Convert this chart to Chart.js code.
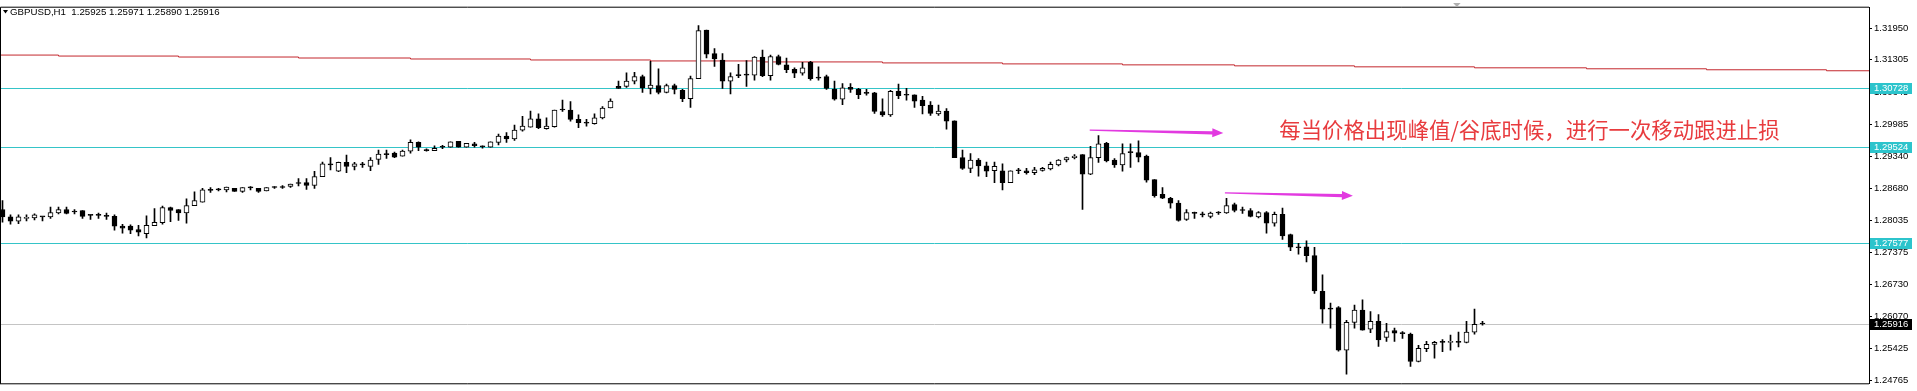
<!DOCTYPE html>
<html>
<head>
<meta charset="utf-8">
<script src="https://cdn.jsdelivr.net/npm/chart.js@4.4.1/dist/chart.umd.min.js"></script>
<style>
  html, body { margin: 0; padding: 0; background: #fff; }
  #wrap { width: 1917px; height: 391px; }
</style>
</head>
<body>
<div id="wrap"><canvas id="chart" width="1917" height="391"></canvas></div>
<script>
// GBPUSD H1 candles (oldest first)
const open = [
  1.2825, 1.2810, 1.2801, 1.2807, 1.2808, 1.2810, 1.2810, 1.2818, 1.2825, 1.2822,
  1.2823, 1.2814, 1.2814, 1.2813, 1.2811, 1.2791, 1.2791, 1.2784, 1.2776, 1.2792,
  1.2798, 1.2829, 1.2825, 1.2818, 1.2833, 1.2840, 1.2865, 1.2865, 1.2865, 1.2868,
  1.2862, 1.2869, 1.2868, 1.2863, 1.2870, 1.2872, 1.2872, 1.2878, 1.2880, 1.2874,
  1.2892, 1.2916, 1.2903, 1.2921, 1.2913, 1.2916, 1.2913, 1.2927, 1.2938, 1.2940,
  1.2934, 1.2944, 1.2962, 1.2946, 1.2945, 1.2952, 1.2952, 1.2964, 1.2952, 1.2959,
  1.2953, 1.2952, 1.2962, 1.2975, 1.2969, 1.2987, 1.2993, 1.3010, 1.2990, 1.2994,
  1.3028, 1.3028, 1.3009, 1.3002, 1.3000, 1.3012, 1.3032, 1.3076, 1.3076, 1.3087,
  1.3096, 1.3072, 1.3078, 1.3064, 1.3078, 1.3068, 1.3051, 1.3092, 1.3191, 1.3143,
  1.3130, 1.3087, 1.3100, 1.3100, 1.3099, 1.3136, 1.3098, 1.3137, 1.3120, 1.3111,
  1.3103, 1.3125, 1.3095, 1.3096, 1.3070, 1.3050, 1.3074, 1.3070, 1.3063, 1.3063,
  1.3025, 1.3018, 1.3066, 1.3059, 1.3059, 1.3048, 1.3038, 1.3020, 1.3026, 1.3006,
  1.2931, 1.2909, 1.2926, 1.2914, 1.2904, 1.2904, 1.2880, 1.2904, 1.2904, 1.2900,
  1.2905, 1.2908, 1.2916, 1.2926, 1.2931, 1.2937, 1.2897, 1.2931, 1.2960, 1.2926,
  1.2916, 1.2941, 1.2941, 1.2934, 1.2886, 1.2856, 1.2848, 1.2838, 1.2805, 1.2817,
  1.2815, 1.2811, 1.2818, 1.2818, 1.2835, 1.2823, 1.2823, 1.2810, 1.2819, 1.2797,
  1.2815, 1.2774, 1.2748, 1.2749, 1.2731, 1.2658, 1.2622, 1.2625, 1.2538, 1.2595,
  1.2620, 1.2581, 1.2597, 1.2564, 1.2578, 1.2573, 1.2571, 1.2515, 1.2541, 1.2550,
  1.2554, 1.2554, 1.2555, 1.2554, 1.2575, 1.25925
];
const high = [
  1.2843, 1.2814, 1.2814, 1.2814, 1.2816, 1.2810, 1.2830, 1.2830, 1.2830, 1.2825,
  1.2823, 1.2814, 1.2818, 1.2818, 1.2814, 1.2795, 1.2794, 1.2793, 1.2812, 1.2827,
  1.2832, 1.2830, 1.2825, 1.2847, 1.2861, 1.2868, 1.2870, 1.2868, 1.2871, 1.2868,
  1.2870, 1.2872, 1.2868, 1.2870, 1.2872, 1.2874, 1.2877, 1.2888, 1.2888, 1.2903,
  1.2922, 1.2931, 1.2922, 1.2936, 1.2921, 1.2921, 1.2931, 1.2946, 1.2946, 1.2942,
  1.2946, 1.2967, 1.2963, 1.2949, 1.2955, 1.2956, 1.2963, 1.2964, 1.2960, 1.2962,
  1.2955, 1.2963, 1.2979, 1.2982, 1.2997, 1.3015, 1.3026, 1.3020, 1.3012, 1.3028,
  1.3048, 1.3045, 1.3018, 1.3009, 1.3020, 1.3035, 1.3051, 1.3087, 1.3104, 1.3105,
  1.3099, 1.3127, 1.3112, 1.3081, 1.3081, 1.3070, 1.3097, 1.3200, 1.3191, 1.3153,
  1.3143, 1.3104, 1.3121, 1.3129, 1.3137, 1.3150, 1.3140, 1.3140, 1.3134, 1.3114,
  1.3125, 1.3127, 1.3116, 1.3099, 1.3087, 1.3082, 1.3082, 1.3072, 1.3070, 1.3064,
  1.3051, 1.3068, 1.3081, 1.3072, 1.3059, 1.3056, 1.3045, 1.3038, 1.3031, 1.3006,
  1.2946, 1.2939, 1.2929, 1.2922, 1.2922, 1.2918, 1.2904, 1.2909, 1.2909, 1.2911,
  1.2911, 1.2922, 1.2927, 1.2932, 1.2937, 1.2937, 1.2954, 1.2976, 1.2962, 1.2929,
  1.2959, 1.2959, 1.2965, 1.2936, 1.2886, 1.2870, 1.2850, 1.2843, 1.2825, 1.2820,
  1.2820, 1.2820, 1.2821, 1.2848, 1.2838, 1.2830, 1.2827, 1.2821, 1.2821, 1.2820,
  1.2828, 1.2775, 1.2756, 1.2761, 1.2748, 1.2692, 1.2634, 1.2627, 1.2599, 1.2630,
  1.2641, 1.2617, 1.2611, 1.2593, 1.2583, 1.2576, 1.2573, 1.2548, 1.2556, 1.2556,
  1.2560, 1.2569, 1.2575, 1.2597, 1.2622, 1.25971
];
const low = [
  1.2799, 1.2795, 1.2796, 1.2802, 1.2804, 1.2802, 1.2807, 1.2816, 1.2816, 1.2816,
  1.2807, 1.2805, 1.2807, 1.2805, 1.2783, 1.2777, 1.2776, 1.2771, 1.2767, 1.2792,
  1.2795, 1.2800, 1.2803, 1.2797, 1.2833, 1.2840, 1.2860, 1.2863, 1.2861, 1.2862,
  1.2860, 1.2865, 1.2860, 1.2863, 1.2868, 1.2868, 1.2870, 1.2873, 1.2866, 1.2868,
  1.2892, 1.2906, 1.2902, 1.2900, 1.2906, 1.2911, 1.2904, 1.2917, 1.2929, 1.2931,
  1.2934, 1.2940, 1.2945, 1.2944, 1.2945, 1.2949, 1.2952, 1.2952, 1.2952, 1.2952,
  1.2950, 1.2952, 1.2957, 1.2962, 1.2966, 1.2985, 1.2993, 1.2990, 1.2989, 1.2993,
  1.3025, 1.3005, 1.2992, 1.2995, 1.2999, 1.3010, 1.3032, 1.3072, 1.3074, 1.3081,
  1.3064, 1.3061, 1.3061, 1.3063, 1.3061, 1.3045, 1.3033, 1.3092, 1.3134, 1.3117,
  1.3072, 1.3061, 1.3094, 1.3076, 1.3089, 1.3096, 1.3089, 1.3120, 1.3104, 1.3094,
  1.3099, 1.3089, 1.3089, 1.3070, 1.3048, 1.3039, 1.3064, 1.3051, 1.3058, 1.3021,
  1.3015, 1.3015, 1.3051, 1.3048, 1.3033, 1.3020, 1.3017, 1.3017, 1.2989, 1.2931,
  1.2907, 1.2900, 1.2893, 1.2892, 1.2880, 1.2865, 1.2880, 1.2898, 1.2897, 1.2896,
  1.2903, 1.2906, 1.2914, 1.2922, 1.2928, 1.2825, 1.2896, 1.2921, 1.2922, 1.2911,
  1.2903, 1.2911, 1.2922, 1.2881, 1.2850, 1.2847, 1.2828, 1.2801, 1.2803, 1.2807,
  1.2810, 1.2808, 1.2815, 1.2817, 1.2820, 1.2817, 1.2810, 1.2808, 1.2777, 1.2791,
  1.2764, 1.2741, 1.2734, 1.2718, 1.2654, 1.2593, 1.2583, 1.2536, 1.2489, 1.2583,
  1.2579, 1.2574, 1.2546, 1.2556, 1.2556, 1.2562, 1.2505, 1.2514, 1.2535, 1.2522,
  1.2535, 1.2538, 1.2545, 1.2553, 1.2571, 1.25890
];
const close = [
  1.2810, 1.2801, 1.2810, 1.2808, 1.2814, 1.2810, 1.2819, 1.2825, 1.2817, 1.2820,
  1.2811, 1.2813, 1.2813, 1.2811, 1.2791, 1.2787, 1.2783, 1.2779, 1.2793, 1.2799,
  1.2829, 1.2823, 1.2818, 1.2833, 1.2843, 1.2865, 1.2864, 1.2865, 1.2871, 1.2862,
  1.2870, 1.2869, 1.2862, 1.2870, 1.2870, 1.2870, 1.2877, 1.2878, 1.2874, 1.2892,
  1.2918, 1.2916, 1.2921, 1.2913, 1.2918, 1.2916, 1.2926, 1.2938, 1.2937, 1.2932,
  1.2944, 1.2962, 1.2952, 1.2945, 1.2950, 1.2952, 1.2963, 1.2952, 1.2960, 1.2955,
  1.2953, 1.2963, 1.2975, 1.2969, 1.2987, 1.2995, 1.3010, 1.2992, 1.2995, 1.3028,
  1.3028, 1.3009, 1.3002, 1.3001, 1.3012, 1.3032, 1.3046, 1.3072, 1.3087, 1.3096,
  1.3073, 1.3079, 1.3064, 1.3078, 1.3070, 1.3051, 1.3092, 1.3190, 1.3142, 1.3132,
  1.3087, 1.3096, 1.3098, 1.3099, 1.3136, 1.3098, 1.3137, 1.3121, 1.3110, 1.3103,
  1.3114, 1.3092, 1.3093, 1.3072, 1.3050, 1.3073, 1.3070, 1.3059, 1.3062, 1.3025,
  1.3018, 1.3066, 1.3057, 1.3058, 1.3046, 1.3037, 1.3021, 1.3026, 1.3005, 1.2931,
  1.2909, 1.2926, 1.2914, 1.2903, 1.2913, 1.2880, 1.2904, 1.2904, 1.2900, 1.2906,
  1.2909, 1.2917, 1.2926, 1.2931, 1.2934, 1.2897, 1.2931, 1.2959, 1.2924, 1.2916,
  1.2939, 1.2941, 1.2932, 1.2885, 1.2853, 1.2848, 1.2838, 1.2803, 1.2819, 1.2817,
  1.2814, 1.2818, 1.2818, 1.2833, 1.2823, 1.2823, 1.2811, 1.2819, 1.2797, 1.2815,
  1.2771, 1.2748, 1.2747, 1.2731, 1.2659, 1.2622, 1.2622, 1.2538, 1.2595, 1.2620,
  1.2579, 1.2597, 1.2559, 1.2576, 1.2573, 1.2572, 1.2515, 1.2542, 1.2550, 1.2554,
  1.2554, 1.2555, 1.2554, 1.2575, 1.2591, 1.25916
];

// right price axis
const yTicks = [1.31950, 1.31305, 1.30645, 1.29985, 1.29340, 1.28680,
                1.28035, 1.27375, 1.26730, 1.26070, 1.25425, 1.24765];

// horizontal lines drawn on the chart
const levels = [1.30728, 1.29524, 1.27577];

// red stepped average line: bar index where each step starts, and its value
const maStart = [-0.4, 7, 22, 37, 51, 66, 81, 95, 110, 125, 140, 154, 169, 184, 198, 213, 228, 233.4];
const maValue = [1.3140, 1.3138, 1.3136, 1.3134, 1.3132, 1.3130, 1.3128, 1.3126, 1.3124,
                 1.3122, 1.3120, 1.3118, 1.3116, 1.3114, 1.3112, 1.3110, 1.3108, 1.3108];

// magenta arrows (bar index / price at both ends) and the note
const arrowFromIdx = [135.9, 152.8];
const arrowFromPrice = [1.2987, 1.2859];
const arrowToIdx = [152.6, 168.8];
const arrowToPrice = [1.2981, 1.2853];
const note = '每当价格出现峰值/谷底时候，进行一次移动跟进止损';
const noteIdx = 159.6;
const notePrice = 1.2987;

const last = open.length - 1;
const header = 'GBPUSD,H1  ' + [open[last], high[last], low[last], close[last]].map(v => v.toFixed(5)).join(' ');

const bodyData = open.map((o, i) => ({ x: i, y: [o, close[i]] }));
const wickData = open.map((o, i) => ({ x: i, y: [low[i], high[i]] }));
const bodyFill = open.map((o, i) => close[i] > o ? '#ffffff' : '#000000');

const overlay = {
  id: 'overlay',
  beforeDatasetsDraw(chart) {
    const { ctx, chartArea: a, scales: { y } } = chart;
    ctx.save();
    ctx.lineWidth = 1;
    ctx.strokeStyle = '#c4c4c4';
    let py = Math.round(y.getPixelForValue(close[last])) + 0.5;
    ctx.beginPath(); ctx.moveTo(a.left, py); ctx.lineTo(a.right, py); ctx.stroke();
    ctx.strokeStyle = '#35c4c8';
    levels.forEach(v => {
      const ly = Math.round(y.getPixelForValue(v)) + 0.5;
      ctx.beginPath(); ctx.moveTo(a.left, ly); ctx.lineTo(a.right, ly); ctx.stroke();
    });
    ctx.restore();
  },
  afterDatasetsDraw(chart) {
    const { ctx, scales: { x, y } } = chart;
    ctx.save();
    // arrows
    ctx.fillStyle = '#e23ae0';
    arrowFromIdx.forEach((fi, k) => {
      const x0 = x.getPixelForValue(fi), y0 = y.getPixelForValue(arrowFromPrice[k]);
      const x1 = x.getPixelForValue(arrowToIdx[k]), y1 = y.getPixelForValue(arrowToPrice[k]);
      const ang = Math.atan2(y1 - y0, x1 - x0);
      const len = Math.hypot(x1 - x0, y1 - y0);
      ctx.save();
      ctx.translate(x0, y0);
      ctx.rotate(ang);
      ctx.beginPath();
      ctx.moveTo(0, -0.7);
      ctx.lineTo(len - 11, -1.6);
      ctx.lineTo(len - 11, -4.5);
      ctx.lineTo(len, 0);
      ctx.lineTo(len - 11, 4.5);
      ctx.lineTo(len - 11, 1.6);
      ctx.lineTo(0, 0.7);
      ctx.closePath();
      ctx.fill();
      ctx.restore();
    });
    // note
    ctx.fillStyle = '#e83b3e';
    ctx.font = '21.4px "Noto Sans CJK SC"';
    ctx.textBaseline = 'middle';
    ctx.textAlign = 'left';
    ctx.fillText(note, x.getPixelForValue(noteIdx), y.getPixelForValue(notePrice));
    ctx.restore();
  },
  afterDraw(chart) {
    const { ctx, chartArea: a, scales: { y } } = chart;
    ctx.save();
    // frame
    ctx.strokeStyle = '#000';
    ctx.lineWidth = 1;
    ctx.beginPath();
    ctx.moveTo(a.left + 0.5, a.bottom + 0.5);
    ctx.lineTo(a.left + 0.5, a.top - 0.5);
    ctx.lineTo(a.right, a.top - 0.5);
    ctx.moveTo(a.left, a.bottom + 0.5);
    ctx.lineTo(a.right, a.bottom + 0.5);
    ctx.stroke();
    // header
    ctx.fillStyle = '#000';
    ctx.beginPath();
    ctx.moveTo(3, 10); ctx.lineTo(8, 10); ctx.lineTo(5.5, 13.5); ctx.closePath();
    ctx.fill();
    ctx.font = '9.7px "Liberation Sans"';
    ctx.textBaseline = 'middle';
    ctx.fillText(header, 10, 12);
    // chart shift marker
    ctx.fillStyle = '#b0b0b0';
    ctx.beginPath();
    ctx.moveTo(a.left + a.width * 0.7775, 3); ctx.lineTo(a.left + a.width * 0.7815, 3);
    ctx.lineTo(a.left + a.width * 0.7795, 7); ctx.closePath();
    ctx.fill();
    // price boxes on the axis
    ctx.font = '9.5px "Liberation Sans"';
    const box = (v, bg) => {
      const py = y.getPixelForValue(v);
      ctx.fillStyle = bg;
      ctx.fillRect(a.right + 1, Math.round(py) - 5, 42, 11);
      ctx.fillStyle = '#fff';
      ctx.fillText(v.toFixed(5), a.right + 5, py + 0.5);
    };
    levels.forEach(v => box(v, '#2cc4cc'));
    box(close[last], '#000');
    ctx.restore();
  }
};

new Chart(document.getElementById('chart'), {
  type: 'bar',
  data: {
    datasets: [
      {
        type: 'bar',
        data: bodyData,
        backgroundColor: bodyFill,
        borderColor: '#000',
        borderWidth: 1,
        borderSkipped: false,
        barThickness: 5,
        minBarLength: 1,
        grouped: false,
        order: 0
      },
      {
        type: 'bar',
        data: wickData,
        backgroundColor: '#000',
        borderWidth: 0,
        barThickness: 1,
        grouped: false,
        order: 1
      },
      {
        type: 'line',
        data: maStart.map((s, k) => ({ x: s, y: maValue[k] })),
        borderColor: '#c3272d',
        borderWidth: 1,
        pointRadius: 0,
        stepped: true,
        order: 2
      }
    ]
  },
  options: {
    responsive: false,
    devicePixelRatio: 1,
    animation: false,
    events: [],
    layout: { padding: { top: 3, bottom: 1, left: 0, right: 0 } },
    plugins: { legend: { display: false }, tooltip: { enabled: false } },
    scales: {
      x: { type: 'linear', display: false, min: -0.3125, max: 233.3125, offset: false },
      y: {
        position: 'right',
        min: 1.24706,
        max: 1.32366,
        afterBuildTicks: scale => { scale.ticks = yTicks.map(v => ({ value: v })); },
        afterFit: scale => { scale.width = 48; },
        grid: { drawOnChartArea: false, tickLength: 3, color: '#000' },
        border: { color: '#000' },
        ticks: {
          autoSkip: false,
          padding: 2,
          color: '#000',
          font: { family: 'Liberation Sans', size: 9.5 },
          callback: v => v.toFixed(5)
        }
      }
    }
  },
  plugins: [overlay]
});
</script>
</body>
</html>
